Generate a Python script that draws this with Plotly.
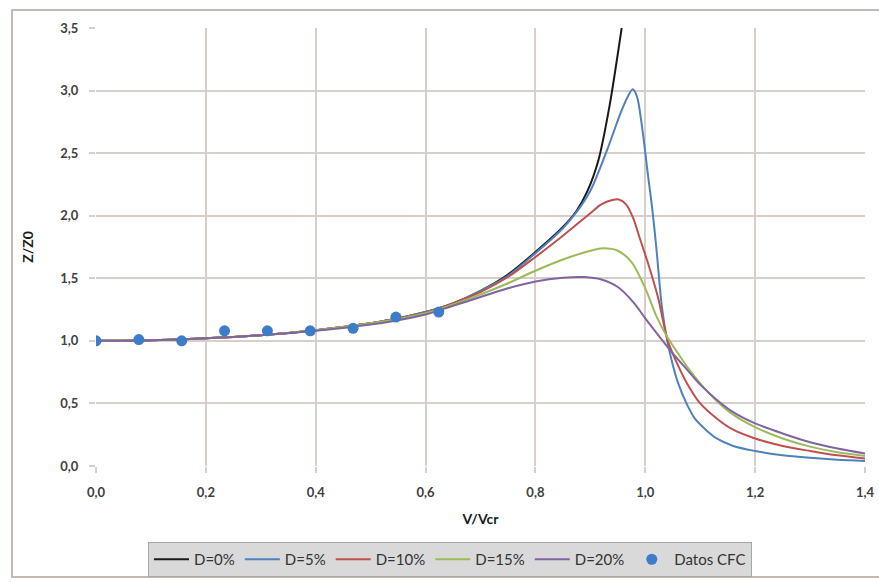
import plotly.graph_objects as go

# ---- data ----
v_d0 = [0, 0.1, 0.2, 0.3, 0.4, 0.5, 0.55, 0.6, 0.65, 0.7, 0.75, 0.8, 0.85, 0.875, 0.895, 0.915, 0.935, 0.957]
z_d0 = [1.0, 1.005, 1.02, 1.045, 1.085, 1.14, 1.18, 1.23, 1.30, 1.40, 1.53, 1.71, 1.91, 2.04, 2.20, 2.45, 2.88, 3.5]

v_d5 = [0, 0.1, 0.2, 0.3, 0.4, 0.5, 0.55, 0.6, 0.65, 0.7, 0.75, 0.8, 0.85, 0.875, 0.9, 0.93, 0.955, 0.968, 0.977,
        0.985, 0.995, 1.005, 1.012, 1.02, 1.03, 1.04, 1.05, 1.06, 1.075, 1.09, 1.11, 1.13, 1.16, 1.2, 1.25, 1.3, 1.35, 1.4]
z_d5 = [1.0, 1.005, 1.02, 1.045, 1.085, 1.14, 1.18, 1.23, 1.30, 1.40, 1.52, 1.70, 1.90, 2.03, 2.20, 2.52, 2.82, 2.95, 3.01,
        2.95, 2.68, 2.32, 2.08, 1.75, 1.28, 1.0, 0.81, 0.66, 0.50, 0.38, 0.29, 0.22, 0.16, 0.12, 0.085, 0.065, 0.05, 0.04]

v_d10 = [0, 0.1, 0.2, 0.3, 0.4, 0.5, 0.55, 0.6, 0.65, 0.7, 0.75, 0.8, 0.85, 0.9, 0.92, 0.94, 0.952, 0.965, 0.978, 0.99,
         1.005, 1.023, 1.041, 1.06, 1.076, 1.1, 1.13, 1.16, 1.2, 1.25, 1.3, 1.35, 1.4]
z_d10 = [1.0, 1.005, 1.02, 1.045, 1.085, 1.14, 1.18, 1.225, 1.30, 1.39, 1.51, 1.67, 1.84, 2.02, 2.09, 2.125, 2.13, 2.09, 1.98, 1.82,
         1.62, 1.35, 1.0, 0.80, 0.66, 0.50, 0.38, 0.29, 0.22, 0.16, 0.12, 0.085, 0.06]

v_d15 = [0, 0.1, 0.2, 0.3, 0.4, 0.5, 0.55, 0.6, 0.65, 0.7, 0.75, 0.8, 0.85, 0.9, 0.923, 0.95, 0.975, 1.0, 1.02,
         1.04, 1.055, 1.08, 1.1, 1.13, 1.16, 1.2, 1.25, 1.3, 1.35, 1.4]
z_d15 = [1.0, 1.005, 1.02, 1.045, 1.085, 1.14, 1.175, 1.22, 1.29, 1.37, 1.46, 1.56, 1.65, 1.72, 1.74, 1.72, 1.63, 1.42, 1.20,
         1.03, 0.93, 0.77, 0.66, 0.52, 0.41, 0.31, 0.22, 0.155, 0.11, 0.08]

v_d20 = [0, 0.1, 0.2, 0.3, 0.4, 0.5, 0.55, 0.6, 0.65, 0.7, 0.75, 0.8, 0.85, 0.89, 0.92, 0.95, 0.98, 1.0, 1.03,
         1.05, 1.076, 1.1, 1.13, 1.16, 1.2, 1.25, 1.3, 1.35, 1.4]
z_d20 = [1.0, 1.005, 1.02, 1.045, 1.08, 1.13, 1.165, 1.21, 1.28, 1.35, 1.42, 1.475, 1.505, 1.51, 1.49, 1.43, 1.30, 1.18, 1.01,
         0.90, 0.77, 0.65, 0.53, 0.43, 0.34, 0.26, 0.19, 0.14, 0.10]

v_cfc = [0.0, 0.078, 0.156, 0.234, 0.312, 0.39, 0.468, 0.546, 0.624]
z_cfc = [1.0, 1.01, 1.0, 1.08, 1.08, 1.08, 1.10, 1.19, 1.23]

series = [
    ("D=0%", v_d0, z_d0, "#1a1a1a"),
    ("D=5%", v_d5, z_d5, "#4f81bd"),
    ("D=10%", v_d10, z_d10, "#c0504d"),
    ("D=15%", v_d15, z_d15, "#9bbb59"),
    ("D=20%", v_d20, z_d20, "#8064a2"),
]

fig = go.Figure()
for name, xs, ys, col in series:
    fig.add_trace(go.Scatter(x=xs, y=ys, mode="lines", name=name,
                             line=dict(color=col, width=2, shape="spline", smoothing=0.8)))
fig.add_trace(go.Scatter(x=v_cfc, y=z_cfc, mode="markers", name="Datos CFC",
                         marker=dict(color="#3d7cc9", size=11)))

W, H = 879, 582
L, R, T, B = 96, 14, 28, 116
pw, ph = W - L - R, H - T - B

def px_x(p):
    return (p - L) / pw

def px_y(p):
    return (H - B - p) / ph

grid = "#d9cfca"
fam = "Lato, Open Sans, sans-serif"

fig.update_layout(
    width=W, height=H,
    margin=dict(l=L, r=R, t=T, b=B),
    paper_bgcolor="white", plot_bgcolor="white",
    separators=",.",
    font=dict(family=fam, size=13, color="#404040"),
    showlegend=True,
    legend=dict(orientation="h", xref="container", yref="container",
                x=148 / W, y=(H - 542) / H, xanchor="left", yanchor="top",
                bgcolor="#d9d9d9", bordercolor="#a6a6a6", borderwidth=1,
                font=dict(family=fam, size=15, color="#333333"),
                itemwidth=35, tracegroupgap=0),
    xaxis=dict(range=[0, 1.4], dtick=0.2, tick0=0, tickformat=".1f",
               showgrid=True, gridcolor=grid, gridwidth=1.5, zeroline=False,
               showline=False, ticks="outside", ticklen=6, tickcolor=grid, tickwidth=1.5,
               ticklabelstandoff=8, automargin=False,
               tickfont=dict(family=fam, size=13, color="#404040", weight="bold"),
               title=dict(text="<b>V/Vcr</b>", standoff=15,
                          font=dict(family=fam, size=14, color="#1a1a1a"))),
    yaxis=dict(range=[0, 3.5], dtick=0.5, tick0=0, tickformat=".1f",
               showgrid=True, gridcolor=grid, gridwidth=1.5, zeroline=False,
               showline=False, ticks="outside", ticklen=6, tickcolor=grid, tickwidth=1.5,
               ticklabelstandoff=8, automargin=False,
               tickfont=dict(family=fam, size=13, color="#404040", weight="bold"),
               title=dict(text="<b>Z/Z0</b>", standoff=23,
                          font=dict(family=fam, size=14, color="#1a1a1a"))),
    shapes=[dict(type="rect", xref="paper", yref="paper",
                 x0=px_x(12), x1=px_x(880), y0=px_y(577), y1=px_y(10),
                 line=dict(color="#c3b8b3", width=2), fillcolor="rgba(0,0,0,0)", layer="below")],
)

fig.write_html("out.html")
